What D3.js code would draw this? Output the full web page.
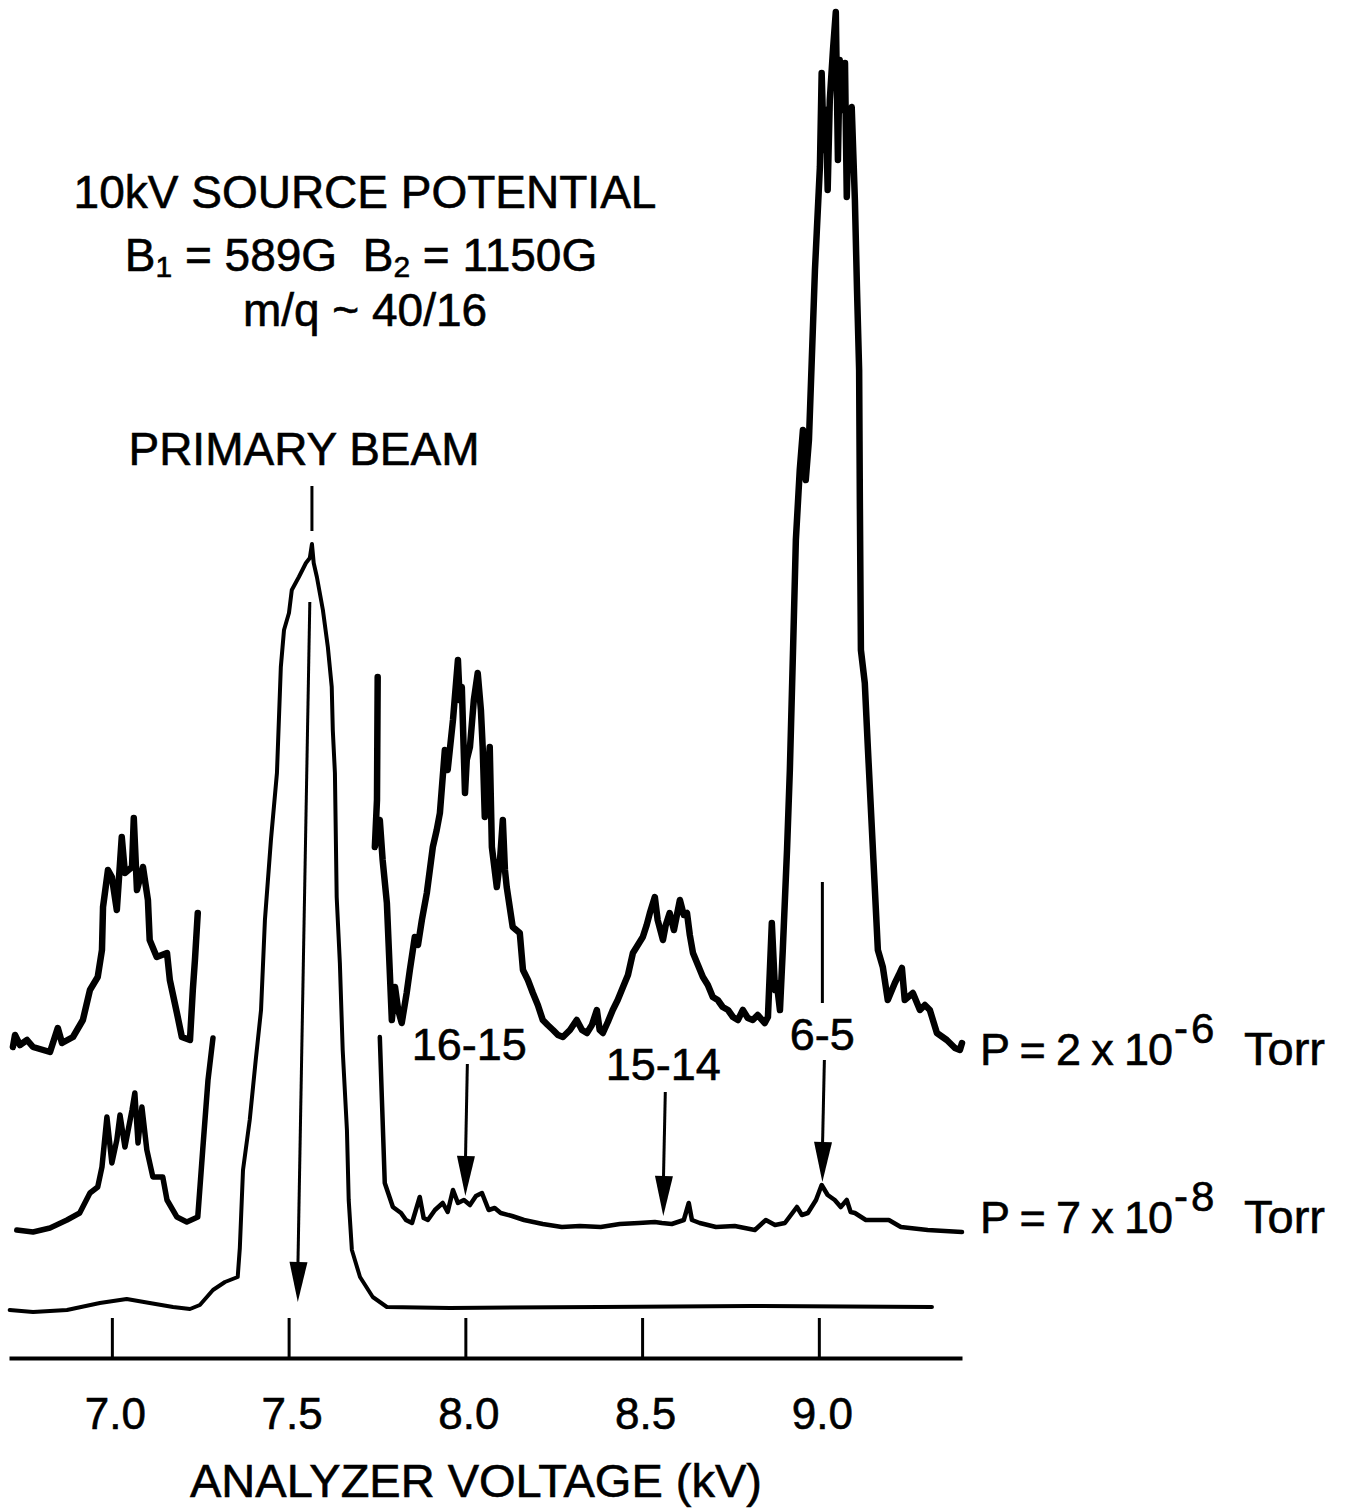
<!DOCTYPE html>
<html>
<head>
<meta charset="utf-8">
<script src="https://cdn.jsdelivr.net/npm/d3@7"></script>
<style>
  body { margin: 0; background: #fff; }
  svg text { font-family: "Liberation Sans", Arial, Helvetica, sans-serif; fill: #000; stroke: #000; stroke-width: 0.6px; white-space: pre; }
</style>
</head>
<body>
<div id="graph"></div>
<script>
"use strict"

// analyzer voltage (kV) vs signal above each trace's own baseline (arb. units)
var primaryBeam = [
  [6.711,-0.2],[6.777,-0.4],[6.873,-0.2],[6.966,0.5],[7.042,0.9],[7.107,0.5],[7.173,0.1],[7.221,-0.1],
  [7.249,0.3],[7.286,1.8],[7.320,2.6],[7.356,3.1],[7.362,6.0],[7.371,13.8],[7.390,18.8],[7.407,24.8],
  [7.422,29.8],[7.433,38.8],[7.450,46.8],[7.467,53.5],[7.478,64.1],[7.487,67.8],[7.501,69.5],[7.509,71.8],
  [7.529,73.1],[7.549,74.5],[7.560,75.0],[7.566,76.4],[7.571,74.5],[7.580,73.1],[7.597,69.8],[7.611,66.1],
  [7.622,62.1],[7.625,57.8],[7.631,53.5],[7.636,41.1],[7.645,34.5],[7.653,25.8],[7.665,17.8],[7.670,10.8],
  [7.679,5.8],[7.702,3.1],[7.738,1.1],[7.778,0.1],[7.956,0.0],[8.380,0.1],[8.805,0.2],[9.320,0.1]
]

var lowPressureLeft = [
  [6.731,-0.2],[6.777,-0.4],[6.825,0.0],[6.873,0.8],[6.909,1.5],[6.938,3.5],[6.960,4.1],[6.972,6.1],
  [6.986,11.1],[7.000,6.5],[7.014,8.8],[7.023,11.3],[7.037,8.1],[7.057,11.8],[7.065,13.5],[7.074,8.5],
  [7.085,12.1],[7.099,7.8],[7.116,5.1],[7.144,5.1],[7.156,2.8],[7.184,1.1],[7.212,0.6],[7.243,1.1],
  [7.257,7.8],[7.272,14.8],[7.286,19.0]
]

var lowPressureRight = [
  [7.758,19.1],[7.764,12.8],[7.772,4.5],[7.795,2.1],[7.818,1.5],[7.832,0.8],[7.849,0.5],[7.871,3.1],
  [7.882,1.0],[7.894,0.8],[7.914,1.8],[7.936,2.5],[7.950,1.6],[7.965,3.8],[7.979,2.5],[7.996,2.8],
  [8.013,2.3],[8.030,3.2],[8.047,3.5],[8.066,1.8],[8.083,2.0],[8.100,1.5],[8.132,1.2],[8.166,0.8],
  [8.219,0.4],[8.273,0.1],[8.324,0.2],[8.383,0.1],[8.437,0.4],[8.491,0.5],[8.536,0.6],[8.556,0.5],
  [8.584,0.4],[8.618,0.8],[8.632,2.5],[8.641,0.8],[8.663,0.5],[8.709,0.1],[8.762,0.2],[8.819,-0.2],
  [8.850,0.8],[8.876,0.3],[8.904,0.5],[8.938,2.1],[8.952,1.3],[8.969,1.5],[8.992,2.8],[9.008,4.3],
  [9.025,3.3],[9.045,2.8],[9.062,2.1],[9.079,2.8],[9.090,1.6],[9.102,1.5],[9.133,0.8],[9.173,0.8],
  [9.198,0.8],[9.232,0.1],[9.308,-0.2],[9.405,-0.4]
]

var highPressureLeft = [
  [6.720,-0.2],[6.726,1.0],[6.740,0.0],[6.760,0.5],[6.777,-0.2],[6.825,-0.7],[6.847,1.7],[6.859,0.2],
  [6.890,0.8],[6.918,2.5],[6.938,5.5],[6.960,6.8],[6.972,9.5],[6.975,13.8],[6.989,17.5],[7.000,16.8],
  [7.014,13.5],[7.028,20.8],[7.037,17.2],[7.057,17.8],[7.062,22.7],[7.071,15.5],[7.088,17.8],[7.102,14.5],
  [7.107,10.5],[7.127,8.8],[7.156,9.2],[7.164,6.5],[7.184,3.2],[7.198,0.8],[7.221,0.5],[7.229,5.5],
  [7.235,8.5],[7.243,13.2]
]

var highPressureRight = [
  [7.752,36.8],[7.750,24.5],[7.744,19.8],[7.758,22.5],[7.766,18.5],[7.778,14.2],[7.792,2.5],[7.801,5.8],
  [7.810,3.5],[7.820,2.2],[7.834,5.2],[7.843,7.5],[7.857,10.8],[7.866,10.0],[7.877,12.5],[7.891,15.2],
  [7.908,19.8],[7.919,21.5],[7.928,23.2],[7.942,29.5],[7.950,27.5],[7.956,29.5],[7.965,32.5],[7.979,38.5],
  [7.984,34.5],[7.990,35.8],[7.999,25.2],[8.004,28.5],[8.013,29.8],[8.024,34.5],[8.035,37.2],[8.044,33.5],
  [8.049,29.8],[8.055,22.8],[8.064,27.5],[8.069,29.8],[8.075,19.8],[8.089,15.8],[8.098,18.5],[8.106,22.5],
  [8.112,17.5],[8.117,15.8],[8.134,11.8],[8.154,11.2],[8.163,7.5],[8.177,6.5],[8.191,5.2],[8.205,4.0],
  [8.219,2.5],[8.233,2.0],[8.248,1.5],[8.262,1.0],[8.276,0.8],[8.296,1.5],[8.315,2.5],[8.330,1.5],
  [8.344,1.2],[8.358,2.0],[8.372,3.5],[8.380,1.5],[8.389,1.2],[8.403,2.3],[8.417,3.5],[8.431,4.5],
  [8.446,5.8],[8.460,7.0],[8.474,9.2],[8.488,10.0],[8.502,10.8],[8.513,12.0],[8.522,13.2],[8.536,14.8],
  [8.544,12.5],[8.559,10.5],[8.567,12.0],[8.578,13.2],[8.590,11.5],[8.607,14.5],[8.618,13.0],[8.627,13.2],
  [8.635,11.0],[8.644,9.2],[8.658,8.0],[8.672,6.8],[8.686,6.0],[8.700,4.8],[8.714,4.5],[8.728,3.8],
  [8.743,3.5],[8.757,2.8],[8.771,2.5],[8.785,3.5],[8.799,2.7],[8.813,2.5],[8.827,3.0],[8.847,2.2],
  [8.856,2.8],[8.867,12.2],[8.876,5.5],[8.881,6.2],[8.890,3.5],[8.898,9.5],[8.910,19.5],[8.918,27.5],
  [8.927,39.5],[8.935,50.5],[8.946,57.5],[8.955,61.5],[8.963,56.5],[8.972,60.5],[8.980,68.5],[8.989,77.5],
  [8.994,81.2],[9.003,87.8],[9.008,97.2],[9.014,89.5],[9.020,93.5],[9.025,85.5],[9.031,94.5],[9.040,99.5],
  [9.048,103.3],[9.054,88.5],[9.059,98.5],[9.068,93.5],[9.074,98.2],[9.079,84.8],[9.085,92.5],[9.093,93.8],
  [9.102,84.5],[9.108,75.5],[9.114,67.5],[9.116,54.5],[9.119,39.5],[9.130,36.2],[9.139,29.5],[9.153,19.5],
  [9.167,9.5],[9.181,7.8],[9.195,4.5],[9.215,6.2],[9.226,7.0],[9.235,7.7],[9.243,4.5],[9.266,5.2],
  [9.286,3.5],[9.300,4.0],[9.314,3.5],[9.334,1.2],[9.362,0.5],[9.385,-0.3],[9.399,-0.5],[9.405,0.2]
]

// vertical offset of each trace on the common signal axis
var baselineOffsets = { primary: 5.0, low: 13.0, high: 31.3 }

var tickValues = [7.0, 7.5, 8.0, 8.5, 9.0]
var peakLabels = ["16-15", "15-14", "6-5"]
var peakVoltages = [8.00, 8.56, 9.01]
var pressureLabels = [["2", "-6"], ["7", "-8"]]

main()

function main() {
  var width = 1346, height = 1508

  var svg = d3.select("#graph").append("svg")
      .attr("width", width).attr("height", height)

  var x = d3.scaleLinear().domain([6.709, 9.405]).range([9, 962])
  var y = d3.scaleLinear().domain([0, 135.8]).range([1358, 0])

  function traceLine(offset) {
    return d3.line()
      .x(function(d) { return x(d[0]) })
      .y(function(d) { return y(d[1] + offset) })
  }

  var traces = [
    {data: primaryBeam, offset: baselineOffsets.primary, w: 4},
    {data: lowPressureLeft, offset: baselineOffsets.low, w: 5.5},
    {data: lowPressureRight, offset: baselineOffsets.low, w: 4.5},
    {data: highPressureLeft, offset: baselineOffsets.high, w: 6.5},
    {data: highPressureRight, offset: baselineOffsets.high, w: 6.5}
  ]

  svg.selectAll(".trace")
    .data(traces)
    .enter().append("path")
      .attr("class", "trace")
      .attr("d", function(d) { return traceLine(d.offset)(d.data) })
      .attr("fill", "none")
      .attr("stroke", "#000")
      .attr("stroke-width", function(d) { return d.w })
      .attr("stroke-linejoin", "round")
      .attr("stroke-linecap", "round")

  // axis: ticks point up, labels below
  var axis = svg.append("g")
      .attr("transform", "translate(0," + y(0) + ")")
      .call(d3.axisBottom(x)
        .tickValues(tickValues)
        .tickFormat(d3.format(".1f"))
        .tickSizeInner(-40)
        .tickSizeOuter(0)
        .tickPadding(40))
  axis.select(".domain").attr("stroke", "#000").attr("stroke-width", 4)
  axis.selectAll(".tick line").attr("stroke", "#000").attr("stroke-width", 3)
  axis.selectAll(".tick text")
      .attr("font-size", 44)
      .attr("font-family", "'Liberation Sans', Arial, sans-serif")
      .attr("fill", "#000")
      .attr("dx", 3)

  svg.append("text")
      .attr("x", 476).attr("y", 1497)
      .attr("text-anchor", "middle")
      .attr("font-size", 47)
      .text("ANALYZER VOLTAGE (kV)")

  // header block
  svg.append("text")
      .attr("x", 365).attr("y", 208)
      .attr("text-anchor", "middle")
      .attr("font-size", 46)
      .text("10kV SOURCE POTENTIAL")

  var bLine = svg.append("text")
      .attr("x", 361).attr("y", 271)
      .attr("text-anchor", "middle")
      .attr("font-size", 46)
  bLine.append("tspan").text("B")
  bLine.append("tspan").attr("font-size", 30).attr("dy", 6).text("1")
  bLine.append("tspan").attr("dy", -6).text(" = 589G  B")
  bLine.append("tspan").attr("font-size", 30).attr("dy", 6).text("2")
  bLine.append("tspan").attr("dy", -6).text(" = 1150G")

  svg.append("text")
      .attr("x", 365).attr("y", 326)
      .attr("text-anchor", "middle")
      .attr("font-size", 46)
      .text("m/q ~ 40/16")

  svg.append("text")
      .attr("x", 304).attr("y", 465)
      .attr("text-anchor", "middle")
      .attr("font-size", 46)
      .text("PRIMARY BEAM")

  // arrows
  function arrow(x1, y1, x2, y2) {
    svg.append("line")
        .attr("x1", x1).attr("y1", y1).attr("x2", x2).attr("y2", y2 - 30)
        .attr("stroke", "#000").attr("stroke-width", 3)
    var ang = Math.atan2(y2 - y1, x2 - x1)
    var len = 40, half = 9
    var bx = x2 - len * Math.cos(ang), by = y2 - len * Math.sin(ang)
    var px = -Math.sin(ang) * half, py = Math.cos(ang) * half
    svg.append("path")
        .attr("d", "M" + x2 + "," + y2 + "L" + (bx + px) + "," + (by + py) +
                   "L" + (bx - px) + "," + (by - py) + "Z")
        .attr("fill", "#000")
  }

  // primary beam marker: short tick under the label, then arrow through the peak
  svg.append("line")
      .attr("x1", x(7.566)).attr("y1", 486).attr("x2", x(7.566)).attr("y2", 531)
      .attr("stroke", "#000").attr("stroke-width", 3)
  arrow(x(7.56), 602, x(7.526), y(baselineOffsets.primary) - 6)

  var labelY = [1060, 1080, 1050]
  var arrowTop = [1064, 1092, 1060]
  var arrowTip = [y(baselineOffsets.low + 3.2), y(baselineOffsets.low + 1.2), y(baselineOffsets.low + 4.6)]

  peakLabels.forEach(function(lab, i) {
    var px = x(peakVoltages[i])
    svg.append("text")
        .attr("x", px + (i == 0 ? 4 : 0)).attr("y", labelY[i])
        .attr("text-anchor", "middle")
        .attr("font-size", 45)
        .text(lab)
    arrow(px + 2, arrowTop[i], px, arrowTip[i])
  })
  // the 6-5 marker also shows above its label, through the big peak
  svg.append("line")
      .attr("x1", x(9.01)).attr("y1", 882).attr("x2", x(9.01)).attr("y2", 1003)
      .attr("stroke", "#000").attr("stroke-width", 3)

  // pressure labels at the right end of each trace
  var labelOffsets = [baselineOffsets.high, baselineOffsets.low]
  var x0 = x(9.405) + 18
  pressureLabels.forEach(function(p, i) {
    var t = svg.append("text")
        .attr("y", y(labelOffsets[i]) + (i == 0 ? 20 : 5))
        .attr("font-size", 45)
    t.append("tspan").attr("x", x0)
        .attr("textLength", 193).attr("lengthAdjust", "spacing")
        .text("P = " + p[0] + " x 10")
    t.append("tspan").attr("x", x0 + 194).attr("font-size", 42)
        .attr("letter-spacing", 3).attr("dy", -22).text(p[1])
    t.append("tspan").attr("x", x0 + 264).attr("font-size", 47).attr("dy", 22).text("Torr")
  })
}
</script>
</body>
</html>
